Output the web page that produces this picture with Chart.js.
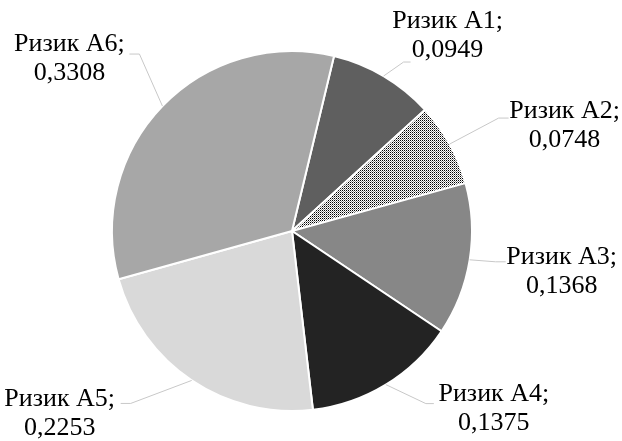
<html lang="uk">
  <head>
    <meta charset="UTF-8" />
    <title>Ризики</title>
    <style>
      body { margin: 0; background: #fff; }
      #wrap { width: 622px; height: 441px; }
    </style>
  </head>
  <body>
    <div id="wrap"><canvas id="myChart"></canvas></div>
    <script src="https://cdn.jsdelivr.net/npm/chart.js@4.4.0/dist/chart.umd.min.js"></script>
    <script>
        // data
        var categories = ['Ризик А1', 'Ризик А2', 'Ризик А3', 'Ризик А4', 'Ризик А5', 'Ризик А6'];
        var values = [0.0949, 0.0748, 0.1368, 0.1375, 0.2253, 0.3308];

        // label placement relative to the arc edge point: [dx, dy] of text centre,
        // leader end [dx, dy] relative to text centre, stub direction
        var labelOffsets = [[64, -55], [115, -33], [92, -3], [108, 10], [-132, 19], [-93, -62]];
        var leaderEnds = [[-37, 41], [-56, 7], [-56, 5], [-60, 9], [61, 4], [60, 10]];
        var stub = [-7, -10, -10, -8, 10, 10];

        // dotted fill for A2
        var pc = document.createElement('canvas');
        pc.width = 2; pc.height = 2;
        var px = pc.getContext('2d');
        px.fillStyle = '#ffffff'; px.fillRect(0, 0, 2, 2);
        px.fillStyle = '#000000'; px.fillRect(0, 0, 1, 1);
        px.fillStyle = '#8a8a8a'; px.fillRect(1, 1, 1, 1);
        var ctx = document.getElementById('myChart').getContext('2d');
        var dots = ctx.createPattern(pc, 'repeat');

        var colors = ['#5f5f5f', dots, '#878787', '#232323', '#d9d9d9', '#a7a7a7'];

        var labelPlugin = {
            id: 'pieLabels',
            afterDatasetsDraw: function (chart) {
                var c = chart.ctx;
                var arcs = chart.getDatasetMeta(0).data;
                c.save();
                c.font = '26px "Liberation Serif", "Times New Roman", serif';
                c.textAlign = 'center';
                c.textBaseline = 'middle';
                arcs.forEach(function (arc, i) {
                    var p = arc.getProps(['x', 'y', 'startAngle', 'endAngle', 'outerRadius'], true);
                    var mid = (p.startAngle + p.endAngle) / 2;
                    var ax = p.x + Math.cos(mid) * p.outerRadius;
                    var ay = p.y + Math.sin(mid) * p.outerRadius;
                    var lx = ax + labelOffsets[i][0];
                    var ly = ay + labelOffsets[i][1];
                    var ex = lx + leaderEnds[i][0];
                    var ey = ly + leaderEnds[i][1];
                    c.strokeStyle = '#c8c8c8';
                    c.lineWidth = 1;
                    c.beginPath();
                    c.moveTo(ax, ay);
                    c.lineTo(ex + stub[i], ey);
                    c.lineTo(ex, ey);
                    c.stroke();
                    c.fillStyle = '#000';
                    c.fillText(categories[i] + ';', lx, ly);
                    c.fillText(values[i].toFixed(4).replace('.', ','), lx, ly + 29);
                });
                c.restore();
            }
        };

        var myPie = new Chart(ctx, {
            type: 'pie',
            data: {
                labels: categories,
                datasets: [{
                    data: values,
                    backgroundColor: colors,
                    borderColor: '#ffffff',
                    borderWidth: 2
                }]
            },
            options: {
                responsive: true,
                maintainAspectRatio: false,
                animation: false,
                rotation: 13.5,
                radius: 180,
                layout: { padding: { left: 112, right: 150, top: 51, bottom: 30 } },
                plugins: {
                    legend: { display: false },
                    tooltip: { enabled: false }
                }
            },
            plugins: [labelPlugin]
        });
    </script>
  </body>
</html>
